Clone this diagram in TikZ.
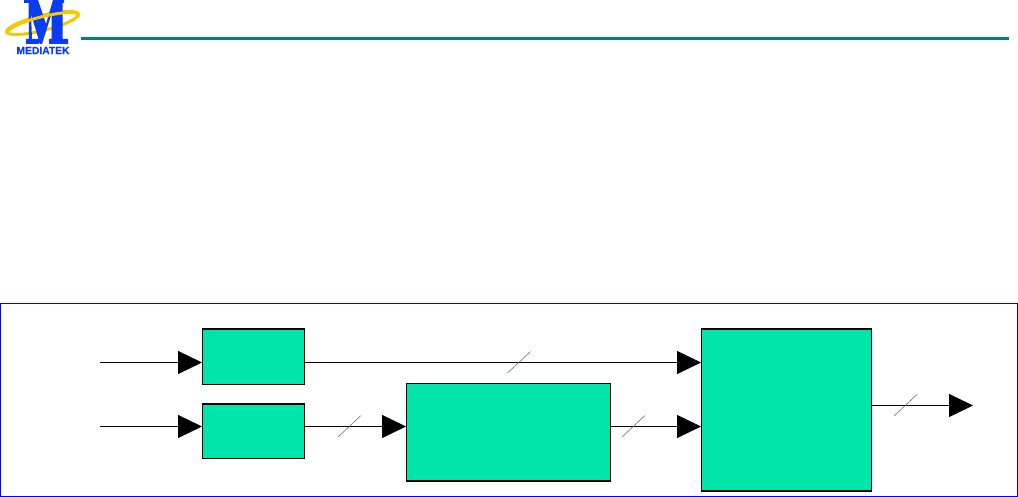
\documentclass[tikz,border=0pt]{standalone}
\usepackage{xcolor}
\usepackage{fontspec}
\setmainfont{Liberation Sans}
\newfontfamily\logofont[FakeBold=0.8]{Liberation Sans Bold}
\definecolor{blockgreen}{HTML}{00E6AA}
\definecolor{headerteal}{HTML}{00807F}
\definecolor{logoblue}{HTML}{0A3CF0}
\definecolor{logogold}{HTML}{F5C800}
\usetikzlibrary{arrows.meta, calc}
\tikzset{
  block/.style={draw=black, fill=blockgreen, line width=1pt, inner sep=0pt},
  busline/.style={draw=black, line width=1.2pt, -{Triangle[length=24pt,width=23pt]}},
  busslash/.style={draw=black!55, line width=0.6pt},
  topedge/.style={draw=black, line width=2pt}
}

\begin{document}
\begin{tikzpicture}[x=1pt, y=-1pt]
      \useasboundingbox (0,0) rectangle (1018,497);
      % logo
      \draw[logogold, line width=3pt, rotate around={14:(42.5,23)}] (42.5,23) ellipse (37 and 7.5);
      \fill[logoblue] (24,0) -- (38,0) -- (46,24) -- (53,0) -- (64,0) -- (64,3) -- (62.5,3) -- (62.5,39) -- (68,39) -- (68,44)
        -- (49,44) -- (49,39) -- (51.5,39) -- (51.5,14) -- (42,44) -- (40,44) -- (31,14) -- (32,39) -- (39,39) -- (39,44)
        -- (26,44) -- (26,39) -- (29,39) -- (28.5,3) -- (24,3) -- cycle;
      \draw[logogold, line width=3pt, rotate around={14:(42.5,23)}] (6,24) arc (182:345:37 and 7.5);
      \node[text=logoblue, font=\fontsize{10.3}{12}\logofont, inner sep=0pt] (logotext) at (43,50.5) {MEDIATEK};
      % header line
      \coordinate (ruleleft) at (81,38.5);
      \coordinate (ruleright) at (1009,38.5);
      \draw[headerteal, line width=2.5pt] (ruleleft) -- (ruleright);
      % frame
      \draw[blue, line width=1pt] (0.5,303.5) rectangle (1017,496);
      % blocks
      \node[block, minimum width=102pt, minimum height=55pt] (boxa) at (253.5,356.5) {};
      \node[block, minimum width=102pt, minimum height=54pt] (boxb) at (253.5,431.5) {};
      \node[block, minimum width=204pt, minimum height=97pt] (boxc) at (508.5,432) {};
      \node[block, minimum width=170pt, minimum height=161pt] (boxd) at (786.5,409.5) {};
      \foreach \i/\j in {boxa.north west/boxa.north east, boxb.north west/boxb.north east,
        boxc.south west/boxc.south east, boxd.north west/boxd.north east, boxd.south west/boxd.south east}{
        \draw[topedge] (\i) -- (\j);
      }
      % connectors
      \coordinate (ina) at (100,362.5);
      \coordinate (inb) at (100,426.5);
      \coordinate (outd) at (973,405.5);
      \draw[busline] (ina) -- (ina -| boxa.west);
      \draw[busline] (inb) -- (inb -| boxb.west);
      \draw[busline] (boxa.east |- ina) -- (ina -| boxd.west);
      \draw[busline] (boxb.east |- inb) -- (inb -| boxc.west);
      \draw[busline] (boxc.east |- inb) -- (inb -| boxd.west);
      \draw[busline] (boxd.east |- outd) -- (outd);
      % bus slashes
      \foreach \x/\y in {349.5/426.5, 519/362.5, 633.5/426.5, 905.5/405.5}{
        \draw[busslash] (\x-11.5,\y+10.5) -- (\x+11.5,\y-11);
      }
    \end{tikzpicture}
\end{document}
